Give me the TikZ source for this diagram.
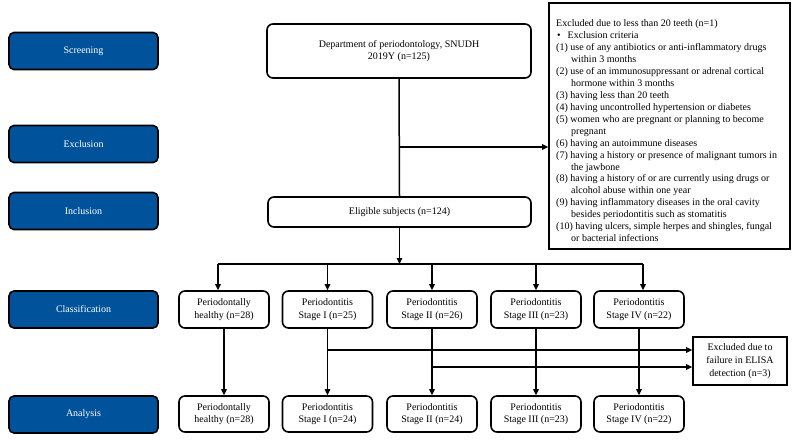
\documentclass[tikz,border=0pt]{standalone}
\usepackage{fontspec}
\setmainfont{Liberation Serif}
\usetikzlibrary{arrows.meta}
\definecolor{stageblue}{RGB}{0,82,155}
\begin{document}
\begin{tikzpicture}[x=1pt,y=-1pt,
  bluebox/.style={draw=black, line width=1.6pt, rounded corners=5pt, fill=stageblue, text=white,
    minimum width=149pt, minimum height=37pt, font=\fontsize{10}{12}\selectfont, inner sep=0pt},
  wbox/.style={draw=black, line width=1.6pt, rounded corners=6pt, fill=white, align=center,
    font=\fontsize{10}{12.6}\selectfont, inner sep=0pt},
  cbox/.style={wbox, minimum width=90pt, minimum height=37pt},
  sqbox/.style={draw=black, line width=1.6pt, fill=white, inner sep=0pt},
  conn/.style={line width=1.5pt},
  arr/.style={conn, -{Triangle[length=6pt,width=5.5pt]}}]
\useasboundingbox (0,0) rectangle (792,441);

% stage labels
\node[bluebox] (s1) at (83.5,51) {Screening};
\node[bluebox] (s2) at (83.5,144) {Exclusion};
\node[bluebox] (s3) at (83.5,211) {Inclusion};
\node[bluebox] (s4) at (83.5,309.5) {Classification};
\node[bluebox] (s5) at (83.5,414.5) {Analysis};

% main boxes
\node[wbox, minimum width=264pt, minimum height=54pt] (dept) at (399,51)
  {Department of periodontology, SNUDH\\2019Y (n=125)};
\node[wbox, minimum width=263pt, minimum height=30pt] (elig) at (399.5,212)
  {Eligible subjects (n=124)};

\node[sqbox, minimum width=241pt, minimum height=246pt] (excl) at (669.5,126) {};
\node[anchor=north west, inner sep=0pt] (excltext) at (556,19.5)
  {\parbox[t]{232pt}{\fontsize{10}{11.95}\selectfont\raggedright
   Excluded due to less than 20 teeth (n=1)\\
   \hspace*{1pt}\textbullet\hspace{7pt}Exclusion criteria\\
   (1) use of any antibiotics or anti-inflammatory drugs\\
   \hspace*{15pt}within 3 months\\
   (2) use of an immunosuppressant or adrenal cortical\\
   \hspace*{15pt}hormone within 3 months\\
   (3) having less than 20 teeth\\
   (4) having uncontrolled hypertension or diabetes\\
   (5) women who are pregnant or planning to become\\
   \hspace*{15pt}pregnant\\
   (6) having an autoimmune diseases\\
   (7) having a history or presence of malignant tumors in\\
   \hspace*{15pt}the jawbone\\
   (8) having a history of or are currently using drugs or\\
   \hspace*{15pt}alcohol abuse within one year\\
   (9) having inflammatory diseases in the oral cavity\\
   \hspace*{15pt}besides periodontitis such as stomatitis\\
   (10) having ulcers, simple herpes and shingles, fungal\\
   \hspace*{15pt}or bacterial infections}};

% classification boxes
\node[cbox] (c1) at (224,309.5) {Periodontally\\healthy (n=28)};
\node[cbox] (c2) at (327.5,309.5) {Periodontitis\\Stage I (n=25)};
\node[cbox] (c3) at (432,309.5) {Periodontitis\\Stage II (n=26)};
\node[cbox] (c4) at (536,309.5) {Periodontitis\\Stage III (n=23)};
\node[cbox] (c5) at (639,309.5) {Periodontitis\\Stage IV (n=22)};

% analysis boxes
\node[cbox, minimum height=36pt] (a1) at (224,414) {Periodontally\\healthy (n=28)};
\node[cbox, minimum height=36pt] (a2) at (327.5,414) {Periodontitis\\Stage I (n=24)};
\node[cbox, minimum height=36pt] (a3) at (432,414) {Periodontitis\\Stage II (n=24)};
\node[cbox, minimum height=36pt] (a4) at (536,414) {Periodontitis\\Stage III (n=23)};
\node[cbox, minimum height=36pt] (a5) at (639,414) {Periodontitis\\Stage IV (n=22)};

\node[sqbox, minimum width=94pt, minimum height=48pt, align=center, font=\fontsize{10}{12.6}\selectfont] (elisa) at (740,361)
  {Excluded due to\\failure in ELISA\\detection (n=3)};

% connectors
\draw[conn] (dept.south) -- (elig.north);
\coordinate (brk) at (399,147);
\draw[arr] (brk) -- (brk -| excl.west);

\coordinate (split) at (399.5,264);
\draw[arr] (elig.south) -- (split);
\draw[conn] ([xshift=-6pt]c1.north |- split) -- ([xshift=4pt]c5.north |- split);
\draw[arr] ([xshift=-6pt]c1.north |- split) -- ([xshift=-6pt]c1.north);
\draw[arr] (c2.north |- split) -- (c2.north);
\draw[arr] (c3.north |- split) -- (c3.north);
\draw[arr] (c4.north |- split) -- (c4.north);
\draw[arr] ([xshift=4pt]c5.north |- split) -- ([xshift=4pt]c5.north);

\draw[arr] (c1.south) -- (a1.north);
\draw[arr] (c2.south) -- (a2.north);
\draw[arr] (c3.south) -- (a3.north);
\draw[arr] (c4.south) -- (a4.north);
\draw[arr] (c5.south) -- (a5.north);

\coordinate (e1) at ([yshift=11pt]elisa.west);
\coordinate (e2) at ([yshift=-6pt]elisa.west);
\draw[arr] (c2.south |- e1) -- (e1);
\draw[arr] (c3.south |- e2) -- (e2);
\end{tikzpicture}
\end{document}
